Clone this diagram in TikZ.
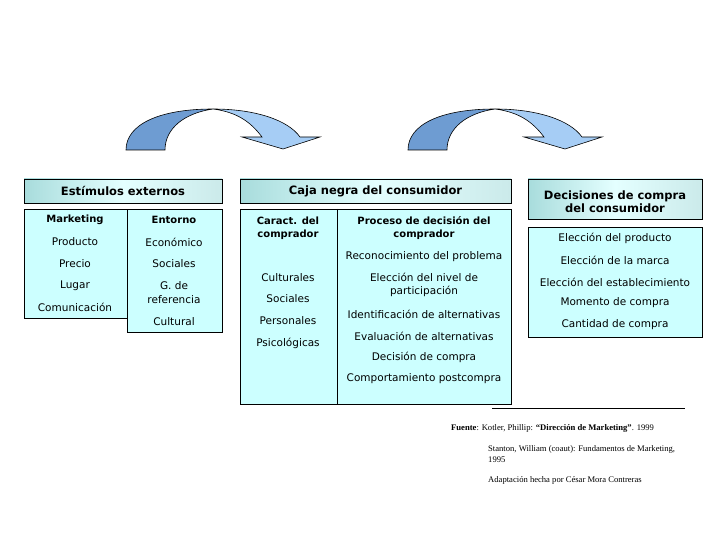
\documentclass[tikz,border=0pt]{standalone}
\usepackage{fontspec}
\setmainfont{DejaVu Sans}
\newfontfamily\srcfont{Liberation Serif}
\usepackage{xcolor}

\definecolor{boxfill}{RGB}{204,255,255}
\definecolor{hdrdark}{RGB}{168,220,220}
\definecolor{hdrlight}{RGB}{228,255,255}
\definecolor{arrdark}{RGB}{110,156,210}
\definecolor{arrlight}{RGB}{166,205,245}

\begin{document}
\begin{tikzpicture}[x=1pt,y=-1pt,
  panel/.style={draw,fill=boxfill,line width=0.8pt},
  header/.style={draw,line width=0.8pt,left color=hdrdark,right color=hdrdark!60!white,middle color=hdrlight},
  lbl/.style={font=\fontsize{10.5}{13.5}\selectfont,align=center,inner sep=0pt},
  lblb/.style={font=\fontsize{10}{13.5}\selectfont\bfseries,align=center,inner sep=0pt},
  ttl/.style={font=\fontsize{11.5}{13.5}\selectfont\bfseries,align=center,inner sep=0pt},
  src/.style={font=\srcfont\fontsize{8.6}{11}\selectfont,anchor=west,align=left,inner sep=0pt}]
  \useasboundingbox (0,0) rectangle (720,540);
  % curved arrows
  \foreach \dx in {0,282} {
    \begin{scope}[xshift=\dx]
      \draw[fill=arrdark,line width=0.6pt] (126,150) .. controls (126,124) and (160,109) .. (213,109)
        .. controls (185,113) and (165,128) .. (165,150) -- cycle;
      \draw[fill=arrlight,line width=0.6pt] (213,109) .. controls (255,109) and (288,120) .. (300,137)
        -- (320,137) -- (283,149) -- (242,137) -- (262,137)
        .. controls (250,121) and (236,112) .. (213,109) -- cycle;
    \end{scope}
  }
  % headers
  \draw[header] (24,179) rectangle (222,203);
  \draw[header] (240,179) rectangle (511,203);
  \draw[header] (528,179) rectangle (702,219);
  \node[ttl] (estim) at (123,191) {Estímulos externos};
  \node[ttl] (caja) at (375.5,191) {Caja negra del consumidor};
  \node[ttl] (decis) at (615,201.5) {Decisiones de compra\\del consumidor};
  % panels
  \draw[panel] (24,209) rectangle (127,318);
  \draw[panel] (127,209) rectangle (222,332);
  \draw[panel] (240,209) rectangle (511,404);
  \draw[line width=0.8pt] (337,209) -- (337,404);
  \draw[panel] (528,227) rectangle (702,337);
  % estimulos externos
  \node[lblb] (mkt) at (75,220) {Marketing};
  \node[lbl] (prod) at (75,242) {Producto};
  \node[lbl] (prec) at (75,264) {Precio};
  \node[lbl] (lug) at (75,286) {Lugar};
  \node[lbl] (com) at (75,307) {Comunicación};
  \node[lblb] (ent) at (174,220) {Entorno};
  \node[lbl] (eco) at (174,242) {Económico};
  \node[lbl] (soc) at (174,264) {Sociales};
  \node[lbl] (gref) at (174,292.5) {G. de\\referencia};
  \node[lbl] (cult) at (174,322) {Cultural};
  % caja negra
  \node[lblb] (caract) at (288,228) {Caract. del\\comprador};
  \node[lblb] (proc) at (424,228) {Proceso de decisión del\\comprador};
  \node[lbl] (recon) at (424,257) {Reconocimiento del problema};
  \node[lbl] (cults) at (288,278) {Culturales};
  \node[lbl] (nivel) at (424,285) {Elección del nivel de\\participación};
  \node[lbl] (socs) at (288,299) {Sociales};
  \node[lbl] (ident) at (424,314) {Identificación de alternativas};
  \node[lbl] (pers) at (288,321) {Personales};
  \node[lbl] (eval) at (424,336) {Evaluación de alternativas};
  \node[lbl] (psic) at (288,343) {Psicológicas};
  \node[lbl] (dec) at (424,357) {Decisión de compra};
  \node[lbl] (post) at (424,379) {Comportamiento postcompra};
  % decisiones
  \node[lbl] (eprod) at (615,238) {Elección del producto};
  \node[lbl] (emarca) at (615,260) {Elección de la marca};
  \node[lbl] (eest) at (615,282) {Elección del establecimiento};
  \node[lbl] (mom) at (615,303) {Momento de compra};
  \node[lbl] (cant) at (615,325) {Cantidad de compra};
  % fuente
  \coordinate (ra) at (492,408);
  \coordinate (rb) at (685,408);
  \draw[line width=0.8pt] (ra) -- (rb);
  \node[src] (fte) at (451,428) {\textbf{Fuente}: Kotler, Phillip: \textbf{“Dirección de Marketing”}. 1999};
  \node[src] (stan) at (488,454.5) {Stanton, William (coaut): Fundamentos de Marketing,\\1995};
  \node[src] (adap) at (488,480) {Adaptación hecha por César Mora Contreras};
\end{tikzpicture}
\end{document}
